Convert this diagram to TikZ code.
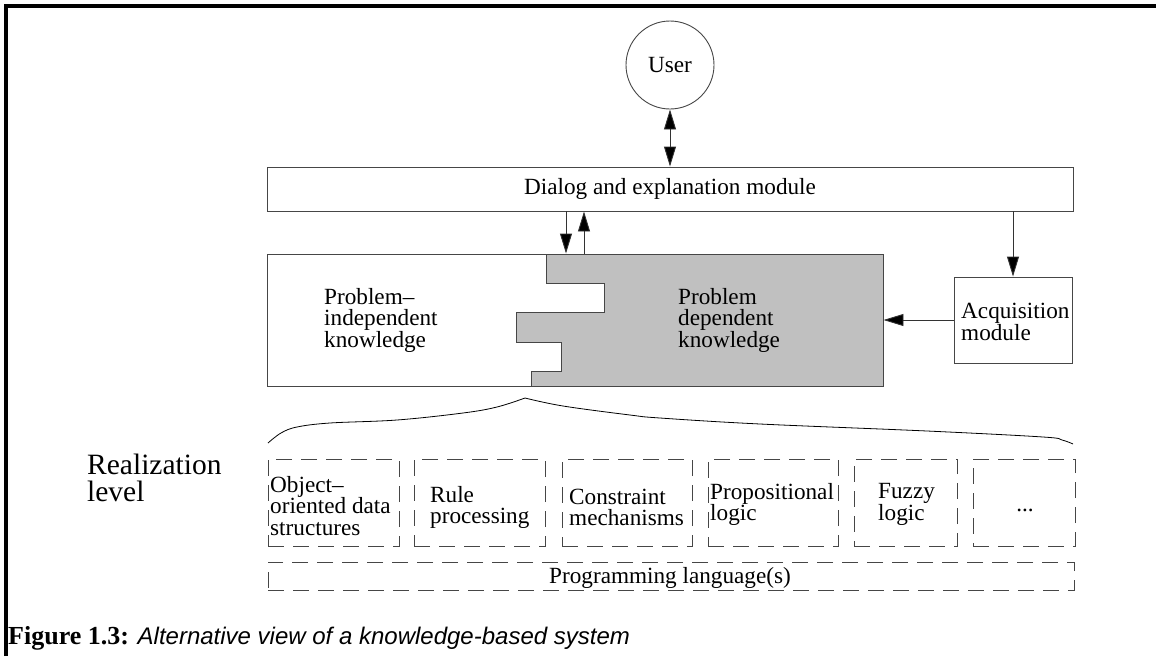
\documentclass[tikz,border=0pt]{standalone}
\usepackage{fontspec}
\setmainfont{Liberation Serif}
\newfontfamily\timf{Liberation Serif}
\newfontfamily\helvf{Liberation Sans}
\usetikzlibrary{arrows.meta,calc}
\definecolor{kgray}{RGB}{192,192,192}
\definecolor{lgray}{RGB}{70,70,70}
\tikzset{
  box/.style={draw=lgray, line width=0.9pt, rectangle, inner sep=0pt},
  dbox/.style={draw=lgray, line width=0.9pt, dash pattern=on 16pt off 9pt, rectangle, inner sep=0pt},
  conn/.style={draw=black!80, line width=0.9pt},
  tip/.tip={Triangle[length=20pt,width=12pt,fill=black]},
  arr/.style={conn, -tip},
  darr/.style={conn, tip-tip},
  txt/.style={font=\fontsize{23.2}{21.5}\selectfont, align=left, inner sep=0pt},
}
\begin{document}
\begin{tikzpicture}[x=1pt,y=-1pt]
\useasboundingbox (0,0) rectangle (1156,656);
% frame
\draw[line width=3.5pt] (6,656) -- (6,6) -- (1156,6);
% user
\node[circle, draw=lgray, line width=0.9pt, minimum size=88pt, inner sep=0pt, txt] (user) at (670,65) {User};
% dialog
\node[box, txt, minimum width=806pt, minimum height=44pt] (dlg) at (670,189) {Dialog and explanation module};
% knowledge box
\node[box, minimum width=616pt, minimum height=132pt] (know) at (575,320) {};
\fill[kgray] (546,254) -- (883,254) -- (883,386) -- (531,386) -- (531,371) -- (561,371) -- (561,342) -- (516,342) -- (516,312) -- (604,312) -- (604,283) -- (546,283) -- cycle;
\draw[draw=lgray, line width=0.9pt] (546,254) -- (546,283) -- (604,283) -- (604,312) -- (516,312) -- (516,342) -- (561,342) -- (561,371) -- (531,371) -- (531,386);
\node[box, minimum width=616pt, minimum height=132pt] at (know.center) {};
\node[txt, anchor=west] (pi) at (324,320) {Problem–\\independent\\knowledge};
\node[txt, anchor=west] (pd) at (678,320) {Problem\\dependent\\knowledge};
% acquisition
\node[box, minimum width=118pt, minimum height=86pt] (acq) at (1013,320) {};
\node[txt, anchor=west] (acqt) at (961,322) {Acquisition\\module};
% connectors
\coordinate (xa) at (566,0);
\coordinate (xb) at (584,0);
\draw[darr] (user.south) -- (dlg.north);
\draw[arr] (dlg.south -| xa) -- (know.north -| xa);
\draw[arr] (know.north -| xb) -- (dlg.south -| xb);
\draw[arr] (dlg.south -| acq.north) -- (acq.north);
\draw[arr] (acq.west) -- (know.east |- acq.west);
% brace
\draw[black, line width=0.8pt] plot[smooth, tension=0.6] coordinates {(268,443) (281,433) (297,427) (330,423) (397,420) (463,413) (497,407) (525,398)};
\draw[black, line width=0.8pt] plot[smooth, tension=0.6] coordinates {(525,398) (563,406) (630,415) (660,418) (760,424) (927,431) (1043,437) (1062,440) (1073,444)};
% realization level
\node[font=\timf\fontsize{29.5}{27}\selectfont, align=left, inner sep=0pt, anchor=west] (real) at (87,478) {Realization\\level};
% dashed boxes
\node[dbox, minimum width=131pt, minimum height=87pt] (b1) at (333.5,502.5) {};
\node[dbox, minimum width=131pt, minimum height=87pt] (b2) at (479.5,502.5) {};
\node[dbox, minimum width=130pt, minimum height=87pt] (b3) at (627,502.5) {};
\node[dbox, minimum width=130pt, minimum height=87pt] (b4) at (773,502.5) {};
\node[dbox, minimum width=103pt, minimum height=87pt] (b5) at (905.5,502.5) {};
\node[dbox, minimum width=102pt, minimum height=87pt] (b6) at (1024,502.5) {};
\node[dbox, minimum width=806pt, minimum height=28pt] (prog) at (671,576) {};
\node[txt, anchor=west] (t1) at (270,506) {Object–\\oriented data\\structures};
\node[txt, anchor=west] (t2) at (430,507.5) {Rule\\processing};
\node[txt, anchor=west] (t3) at (569,507.5) {Constraint\\mechanisms};
\node[txt, anchor=west] (t4) at (710,504.5) {Propositional\\logic};
\node[txt, anchor=west] (t5) at (878,504.5) {Fuzzy\\logic};
\node[txt] (t6) at (1025,510) {...};
\node[txt] (t7) at (670,578) {Programming language(s)};
% caption
\node[anchor=base west, inner sep=0pt] (cap) at (8,644) {\timf\bfseries\fontsize{26}{28}\selectfont Figure 1.3: \helvf\mdseries\itshape\fontsize{24}{28}\selectfont Alternative view of a knowledge-based system};
\end{tikzpicture}
\end{document}
